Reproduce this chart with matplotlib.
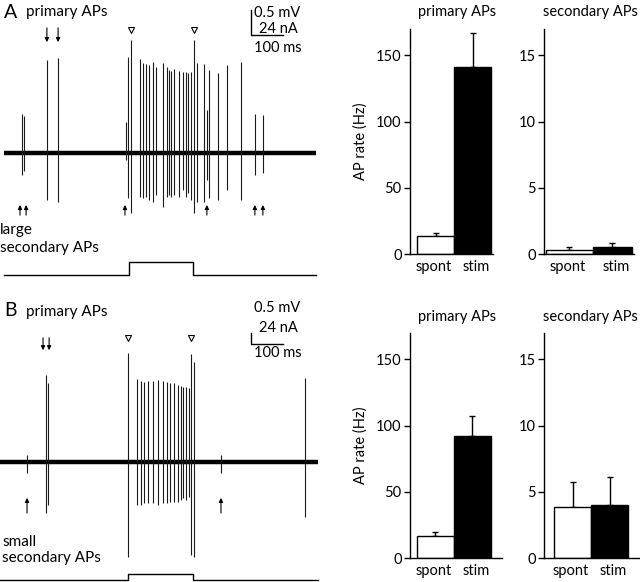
import matplotlib
matplotlib.use("Agg")
import matplotlib.pyplot as plt
from matplotlib.lines import Line2D

plt.rcParams['font.family'] = ['Lato', 'DejaVu Sans']

W, H = 640, 582

# ---- panel A trace: spike times (ms), peak up / down (mV) ----
spkA_t = [57, 62, 134, 169, 380, 387, 396, 424, 433, 443, 452, 465, 474, 496, 508, 516,
          522, 530, 548, 558, 568, 576, 585, 593, 604, 625, 633, 642, 668, 696, 741, 784, 810]
spkA_up = [0.85, 0.8, 2.02, 2.07, 0.67, 2.09, 2.46, 2.04, 1.96, 1.93, 1.91, 1.98, 1.87, 1.96, 1.87, 1.80,
           1.78, 1.83, 1.78, 1.76, 1.76, 1.74, 1.76, 2.46, 1.96, 1.93, 0.93, 1.80, 1.74, 1.91, 1.98, 0.85, 0.83]
spkA_down = [-0.48, -0.4, -1.02, -1.07, -0.15, -0.98, -1.30, -0.96, -0.98, -0.96, -1.02, -1.07, -0.91, -1.17, -0.96, -0.91,
             -0.96, -0.91, -0.96, -0.80, -0.96, -0.87, -1.02, -1.30, -1.07, -1.07, -0.59, -0.98, -1.02, -0.80, -1.02, -0.48, -0.43]
primA_arrows = [134, 169]
secA_arrows = [50, 69, 378, 634, 784, 809]
markA = [396, 593]
stimA_on, stimA_off, stimA_amp = 392, 592, 13.5
traceA_span = (0, 975)

# ---- panel B trace ----
spkB_t = [71, 131, 138, 388, 417, 427, 438, 451, 467, 482, 496, 508, 519, 532, 543,
          552, 560, 569, 577, 585, 593, 678, 941]
spkB_up = [0.15, 1.89, 1.72, 2.37, 1.80, 1.76, 1.74, 1.76, 1.76, 1.78, 1.76, 1.74, 1.72, 1.72, 1.67,
           1.65, 1.63, 1.63, 1.61, 2.35, 2.17, 0.15, 1.83]
spkB_down = [-0.25, -1.11, -0.93, -2.07, -0.93, -0.93, -0.89, -0.89, -0.89, -0.93, -0.89, -0.89, -0.87, -0.87, -0.87,
             -0.83, -0.78, -0.83, -0.76, -2.02, -2.07, -0.25, -1.20]
primB_arrows = [122, 141]
secB_arrows = [72, 678]
markB = [388, 585]
stimB_on, stimB_off, stimB_amp = 388, 591, 6.0
traceB_span = (-12, 981)

# ---- bar charts ----
conds = ['spont', 'stim']
primA_mean = [13.5, 141]
primA_err = [2.5, 26]
secA_mean = [0.3, 0.55]
secA_err = [0.25, 0.25]
primB_mean = [17, 92]
primB_err = [2.5, 15]
secB_mean = [3.85, 4.03]
secB_err = [1.9, 2.1]


def fbox(x0, y0, x1, y1):
    return [x0 / W, 1 - y1 / H, (x1 - x0) / W, (y1 - y0) / H]


def ftext(x, y, s, **kw):
    kw.setdefault('va', 'center')
    kw.setdefault('fontsize', 11)
    fig.text(x / W, 1 - y / H, s, **kw)


def fline(xs, ys, lw=1.0):
    fig.add_artist(Line2D([x / W for x in xs], [1 - y / H for y in ys],
                          color='k', lw=lw, transform=fig.transFigure))


def trace_panel(box, xlim, vlim, ilim, t, up, down, span, on, off, amp,
                parrows, parr_y, sarrows, sarr_y, marks, mark_y):
    ax = fig.add_axes(fbox(*box))
    ax.set_xlim(xlim)
    ax.set_ylim(vlim)
    ax.axis('off')
    ax.plot(span, [0, 0], color='k', lw=3.2, solid_capstyle='butt')
    ax.vlines(t, down, up, color='0.1', lw=0.8)
    for x in parrows:
        ax.annotate('', xy=(x, parr_y[1]), xytext=(x, parr_y[0]),
                    arrowprops=dict(arrowstyle='-|>', color='k', lw=0.8, mutation_scale=6,
                                    shrinkA=0, shrinkB=0))
    for x in sarrows:
        ax.annotate('', xy=(x, sarr_y[1]), xytext=(x, sarr_y[0]),
                    arrowprops=dict(arrowstyle='-|>', color='k', lw=0.8, mutation_scale=6,
                                    shrinkA=0, shrinkB=0))
    ax.plot(marks, [mark_y] * len(marks), 'v', ms=4.5, mfc='white', mec='k', mew=0.8)
    sx = fig.add_axes(fbox(*box))
    sx.set_xlim(xlim)
    sx.set_ylim(ilim)
    sx.axis('off')
    sx.plot([span[0], on, on, off, off, span[1]], [0, 0, amp, amp, 0, 0], color='k', lw=1.0)


def bar_panel(box, means, errs, xlim, lefts, widths, ylim, ticks, ylabel=None):
    ax = fig.add_axes(fbox(*box))
    centers = [l + w / 2 for l, w in zip(lefts, widths)]
    ax.bar(lefts, means, width=widths, align='edge', color=['white', 'black'],
           edgecolor='k', linewidth=1.0, zorder=2)
    ax.errorbar(centers, means, yerr=[[0] * len(errs), errs], fmt='none', ecolor='k',
                elinewidth=1.0, capsize=2.5, capthick=1.0, zorder=1)
    ax.set_xlim(xlim)
    ax.set_ylim(ylim)
    ax.set_yticks(ticks)
    ax.set_xticks([centers[0] - 0.05, centers[1] + 0.1])
    ax.set_xticklabels(conds)
    for s in ['top', 'right']:
        ax.spines[s].set_visible(False)
    for s in ['left', 'bottom']:
        ax.spines[s].set_linewidth(1.0)
    ax.tick_params(axis='y', direction='out', length=4, width=1.0, labelsize=10.5, pad=2)
    ax.tick_params(axis='x', length=0, labelsize=10.5, pad=4)
    if ylabel:
        ax.set_ylabel(ylabel, fontsize=10.5, labelpad=6)
    return ax


fig = plt.figure(figsize=(6.4, 5.82), dpi=100)

# panel A traces
trace_panel((0, 0, 330, 285), (-12.5, 1018.75), (-2.870, 3.326), (-10.4, 287),
            spkA_t, spkA_up, spkA_down, traceA_span, stimA_on, stimA_off, stimA_amp,
            primA_arrows, (2.72, 2.41), secA_arrows, (-1.35, -1.13), markA, 2.67)
# panel B traces
trace_panel((0, 285, 330, 582), (-12.5, 1018.75), (-2.609, 3.848), (-2.09, 307.9),
            spkB_t, spkB_up, spkB_down, traceB_span, stimB_on, stimB_off, stimB_amp,
            primB_arrows, (2.70, 2.43), secB_arrows, (-1.11, -0.78), markB, 2.70)

# labels for traces
ftext(4, 12, 'A', fontsize=14)
ftext(26, 12, 'primary APs')
ftext(0, 230, 'large')
ftext(0, 248, 'secondary APs')
ftext(4, 310, 'B', fontsize=14)
ftext(26, 312, 'primary APs')
ftext(2, 542, 'small')
ftext(2, 558, 'secondary APs')

# scale bars
fline([251, 251, 283], [10, 35, 35])
ftext(254, 13, '0.5 mV', fontsize=10.5)
ftext(298, 29, '24 nA', ha='right', fontsize=10.5)
ftext(254, 48, '100 ms', fontsize=10.5)
fline([251, 251, 283], [333, 344, 344])
ftext(254, 308, '0.5 mV', fontsize=10.5)
ftext(298, 328, '24 nA', ha='right', fontsize=10.5)
ftext(254, 353, '100 ms', fontsize=10.5)

# bar charts
bar_panel((410, 29, 493, 254), primA_mean, primA_err, (-0.19, 2.05), [0, 1], [1, 1],
          (0, 170), [0, 50, 100, 150], 'AP rate (Hz)')
bar_panel((544, 29, 634, 254), secA_mean, secA_err, (-0.046, 2.39), [0, 1.286], [1.286, 1.04],
          (0, 17), [0, 5, 10, 15])
bar_panel((410, 333, 502, 558), primB_mean, primB_err, (-0.19, 2.30), [0, 1], [1, 1],
          (0, 170), [0, 50, 100, 150], 'AP rate (Hz)')
bar_panel((544, 333, 640, 558), secB_mean, secB_err, (-0.27, 2.32), [0, 1], [1, 1],
          (0, 17), [0, 5, 10, 15])

ftext(457, 12, 'primary APs', ha='center', fontsize=10.5)
ftext(590, 12, 'secondary APs', ha='center', fontsize=10.5)
ftext(457, 317, 'primary APs', ha='center', fontsize=10.5)
ftext(590, 317, 'secondary APs', ha='center', fontsize=10.5)

fig.savefig('out.png', dpi=100)
